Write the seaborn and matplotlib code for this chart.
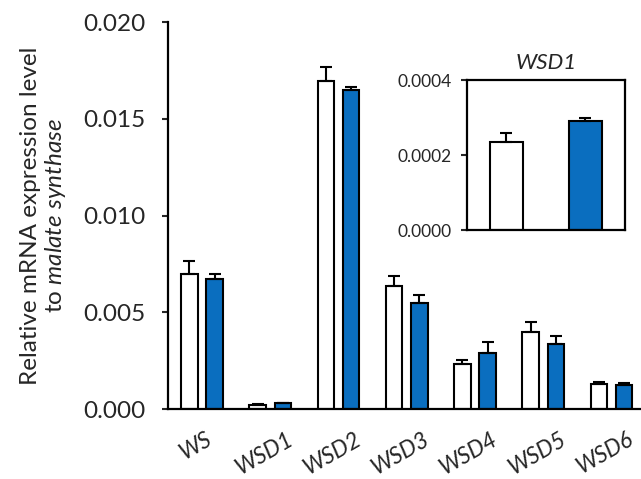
import numpy as np
import pandas as pd
import matplotlib
matplotlib.use("Agg")
import matplotlib.pyplot as plt
import matplotlib.transforms as mtransforms
import seaborn as sns

genes = ["WS", "WSD1", "WSD2", "WSD3", "WSD4", "WSD5", "WSD6"]
conditions = ["A", "B"]
white_vals = [0.00698, 0.000235, 0.01695, 0.00634, 0.00233, 0.00396, 0.00131]
white_err = [0.00068, 0.000025, 0.00072, 0.00055, 0.00020, 0.00054, 0.00007]
blue_vals = [0.00673, 0.000292, 0.01649, 0.00549, 0.00289, 0.00336, 0.00124]
blue_err = [0.00025, 0.000008, 0.00015, 0.00038, 0.00056, 0.00041, 0.00009]
main_ticks = [0.000, 0.005, 0.010, 0.015, 0.020]
inset_ticks = [0.0000, 0.0002, 0.0004]

sns.set_theme(style="white")
plt.rcParams["font.family"] = ["Lato", "DejaVu Sans"]
plt.rcParams["mathtext.fontset"] = "custom"
plt.rcParams["mathtext.rm"] = "Lato"
plt.rcParams["mathtext.it"] = "Lato:italic"

colors = {"A": "white", "B": "#0a6ebf"}

df = pd.DataFrame({
    "gene": genes * 2,
    "cond": ["A"] * len(genes) + ["B"] * len(genes),
    "val": white_vals + blue_vals,
    "err": white_err + blue_err,
})

fig = plt.figure(figsize=(6.41, 4.79), dpi=100)
ax = fig.add_axes([0.262, 0.146, 0.745, 0.808])

sns.barplot(data=df, x="gene", y="val", hue="cond", hue_order=conditions,
            palette=colors, saturation=1, width=0.74, gap=0.35,
            edgecolor="black", linewidth=1.5, legend=False, ax=ax,
            errorbar=None)

# error bars (upper only) placed on the drawn bars
for cont, cond in zip(ax.containers, conditions):
    sub = df[df.cond == cond]
    xs = [p.get_x() + p.get_width() / 2 for p in cont.patches]
    ax.errorbar(xs, sub["val"].values,
                yerr=[np.zeros(len(sub)), sub["err"].values],
                fmt="none", ecolor="black", elinewidth=1.5, capsize=4,
                capthick=1.5, zorder=3)

ax.set_ylim(0, 0.020)
ax.set_xlim(-0.5, 6.5)
ax.set_yticks(main_ticks)
ax.set_yticklabels([f"{t:.3f}" for t in main_ticks], fontsize=17.5)
ax.set_xticks(range(len(genes)))
ax.tick_params(axis="x", length=0, pad=14)
ax.tick_params(axis="y", direction="out", length=4, width=1.5, pad=12, left=True)
ax.set_xticklabels(genes, fontsize=16.5, style="italic", rotation=30, ha="center")
shift = mtransforms.ScaledTranslation(-6 / 100, 0, fig.dpi_scale_trans)
for lbl in ax.get_xticklabels():
    lbl.set_transform(lbl.get_transform() + shift)
ax.set_xlabel("")
ax.set_ylabel("Relative mRNA expression level\nto $\\mathit{malate\\ synthase}$",
              fontsize=17.5, labelpad=11, linespacing=1.12)
sns.despine(ax=ax)
for s in ["left", "bottom"]:
    ax.spines[s].set_linewidth(1.6)
    ax.spines[s].set_color("black")

# inset
ins = fig.add_axes([0.7285, 0.5198, 0.2465, 0.313])
sub1 = df[df.gene == "WSD1"]
sns.barplot(data=sub1, x="cond", y="val", hue="cond", order=conditions,
            hue_order=conditions, palette=colors, saturation=1, width=0.42,
            edgecolor="black", linewidth=1.5, legend=False, ax=ins,
            errorbar=None, dodge=False)
xs = []
for cont in ins.containers:
    for p in cont.patches:
        if p.get_height() > 0:
            xs.append((p.get_x() + p.get_width() / 2, p.get_height()))
xs.sort()
ins.errorbar([x for x, _ in xs], sub1["val"].values,
             yerr=[np.zeros(2), sub1["err"].values],
             fmt="none", ecolor="black", elinewidth=1.5, capsize=4,
             capthick=1.5, zorder=3)
ins.set_ylim(0, 0.0004)
ins.set_xlim(-0.5, 1.5)
ins.set_yticks(inset_ticks)
ins.set_yticklabels([f"{t:.4f}" for t in inset_ticks], fontsize=12.5)
ins.set_xticks([])
ins.set_xlabel("")
ins.set_ylabel("")
ins.tick_params(axis="y", direction="out", length=4, width=1.5, pad=7, left=True)
ins.set_title("WSD1", fontsize=16, style="italic", pad=8)
for s in ins.spines.values():
    s.set_linewidth(1.6)
    s.set_color("black")
    s.set_visible(True)

fig.savefig("out.png", dpi=100)
